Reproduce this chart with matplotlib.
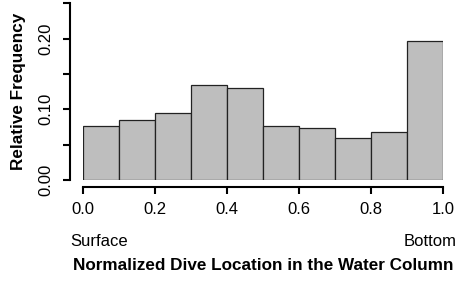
import numpy as np
import matplotlib
matplotlib.use("Agg")
import matplotlib.pyplot as plt

plt.rcParams['font.family'] = ['Liberation Sans', 'DejaVu Sans']

# histogram data
bin_edges = np.round(np.arange(0, 1.01, 0.1), 2)
rel_freq = [0.077, 0.085, 0.095, 0.134, 0.130, 0.076, 0.073, 0.059, 0.068, 0.197]
x_ticks = [0.0, 0.2, 0.4, 0.6, 0.8, 1.0]
x_ticklabels = ["0.0", "0.2", "0.4", "0.6", "0.8", "1.0"]
y_ticks = [0.00, 0.05, 0.10, 0.15, 0.20, 0.25]
y_ticklabels = ["0.00", "", "0.10", "", "0.20", ""]

W, H = 461, 284
fig = plt.figure(figsize=(W / 100, H / 100), dpi=100)
ax = fig.add_axes([83.3 / W, (H - 180) / H, 360 / W, 176.7 / H])

ax.bar(bin_edges[:-1], rel_freq, width=0.1, align='edge',
       color='#bebebe', edgecolor='#222222', linewidth=0.9)

ax.set_xlim(0, 1)
ax.set_ylim(0, 0.25)
for s in ['top', 'right']:
    ax.spines[s].set_visible(False)
ax.spines['left'].set_position(('outward', 9.6))
ax.spines['bottom'].set_position(('outward', 5))
ax.spines['left'].set_linewidth(1.5)
ax.spines['bottom'].set_linewidth(1.5)

ax.set_xticks(x_ticks)
ax.set_xticklabels(x_ticklabels)
ax.set_yticks(y_ticks)
ax.set_yticklabels(y_ticklabels, rotation=90, va='center')
ax.tick_params(axis='both', length=5, width=1.5, labelsize=12)
ax.tick_params(axis='x', pad=6)
ax.tick_params(axis='y', pad=7)

fig.text(70 / W, (H - 242) / H, "Surface", ha='left', va='center', fontsize=12)
fig.text(456.7 / W, (H - 242) / H, "Bottom", ha='right', va='center', fontsize=12)
fig.text(263 / W, (H - 266) / H, "Normalized Dive Location in the Water Column",
         ha='center', va='center', fontsize=12.3, fontweight='bold')
fig.text(18.5 / W, (H - 91.5) / H, "Relative Frequency", ha='center', va='center',
         rotation=90, fontsize=12.3, fontweight='bold')

fig.savefig("out.png", dpi=100)
